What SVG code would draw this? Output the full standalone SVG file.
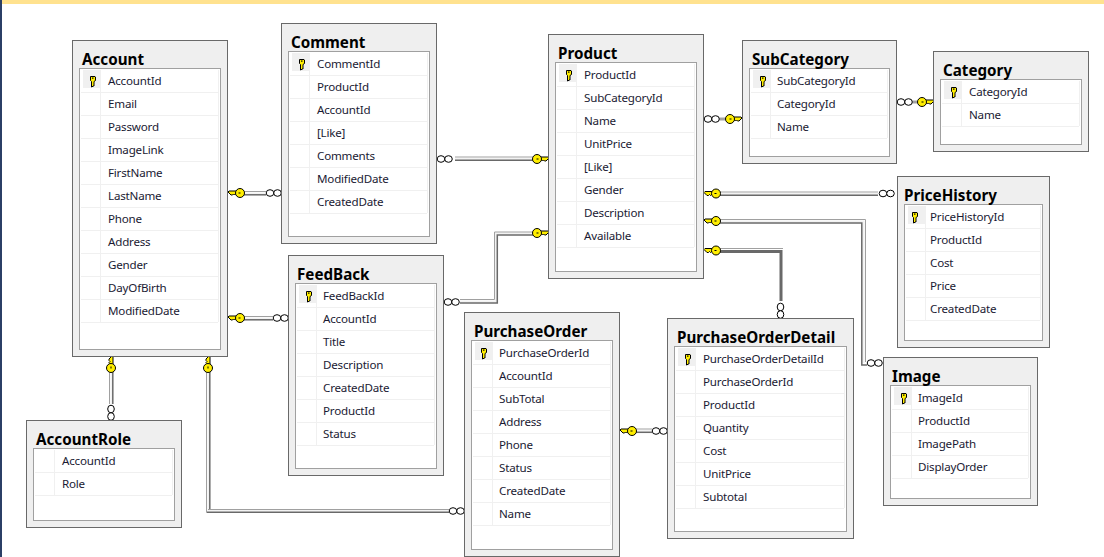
<svg xmlns="http://www.w3.org/2000/svg" xmlns:xlink="http://www.w3.org/1999/xlink" width="1104" height="557" viewBox="0 0 1104 557">
<style>
text{font-family:"Noto Sans","Open Sans","Liberation Sans",sans-serif;fill:#000}
.t{font-size:15.2px;font-weight:700}
.r{font-size:11.6px;letter-spacing:-.2px;fill:#1a1a33}
.o{fill:#efefef;stroke:#696969;stroke-width:1}
.p{fill:#fff;stroke:#a0a0a0;stroke-width:1}
.g{fill:none;stroke:#f0f0f0;stroke-width:1}
.c{fill:#f0f0f0}
.l,.m,.d{fill:none}
.l{stroke:#a0a0a0;stroke-width:1}
.m{stroke:#f2f2f2;stroke-width:2}
.d{stroke:#696969;stroke-width:1.5}
.h{stroke:#696969;stroke-width:3;fill:none}
.y{fill:#ffee00;stroke:#000;stroke-width:1}
.i{fill:#fff;stroke:#000;stroke-width:1}
</style>
<defs>
<g id="k"><path class="y" d="M-2.500,-4.500h4.500l.5,.5v3.500l-1.500,1v4.500h-1l-1,1h-.5v-5.500l-1,-1z"/><rect x="-1" y="-3.500" width="1.500" height="1.200" fill="#000"/></g>
<g id="ck"><path class="y" d="M-2,-2h-9l-1,1 3,3h1.500l1,-1 1,1 1,-1 1,1 1,-1h1.500z"/><circle class="y" r="4.500"/><rect x="-1.500" y="-.5" width="2" height="1" fill="#000"/></g>
<g id="inf"><ellipse class="i" cx="4" cy="0" rx="3.800" ry="3.300"/><ellipse class="i" cx="11.500" cy="0" rx="3.800" ry="3.300"/></g>
</defs>
<rect x="0" y="0" width="1104" height="4" fill="#ffe28f"/>
<rect x="0" y="0" width="2" height="557" fill="#2b3f66"/>

<g id="connectors">
<g id="c1"><path class="m" d="M244,193.500H266"/><path class="l" d="M244,191.500H266"/><path class="d" d="M244,194.800H266"/><use href="#ck" x="240" y="193"/><use href="#inf" x="266" y="193"/></g>
<g id="c2"><path class="m" d="M244,318.500H273"/><path class="l" d="M244,316.500H273"/><path class="d" d="M244,319.800H273"/><use href="#ck" x="240" y="318"/><use href="#inf" x="273" y="318"/></g>
<g id="c3"><path class="m" d="M111.500,372V404"/><path class="l" d="M109.500,372V404"/><path class="d" d="M112.800,372V404"/><use href="#ck" transform="translate(111,368) rotate(90)"/><use href="#inf" transform="translate(111,405) rotate(90)"/></g>
<g id="c4"><path class="m" d="M208.500,372V510.500H449"/><path class="l" d="M206.500,372V512.500H449"/><path class="l" d="M208,509.500H449" /><path class="d" d="M209.800,372V509"/><path class="d" d="M207,512.300H449"/><use href="#ck" transform="translate(208,368) rotate(90)"/><use href="#inf" x="449" y="511"/></g>
<g id="c5"><path class="m" d="M455,159H533"/><path class="l" d="M455,157H533"/><path class="d" d="M455,160.300H533"/><use href="#ck" transform="translate(537,159) scale(-1,1)"/><use href="#inf" x="437" y="159"/></g>
<g id="c6"><path class="m" d="M460,301.500H496V233.500H533"/><path class="l" d="M460,299.500H494.500V232H533"/><path class="d" d="M460,303H497.300V235H533"/><use href="#ck" transform="translate(537,233) scale(-1,1)"/><use href="#inf" x="444" y="302"/></g>
<g id="c7"><path d="M719,119H727" stroke="#a0a0a0" stroke-width="3" fill="none"/><use href="#ck" transform="translate(730,119) scale(-1,1)"/><use href="#inf" x="704" y="119"/></g>
<g id="c8"><path d="M912,102H919" stroke="#a0a0a0" stroke-width="3" fill="none"/><use href="#ck" transform="translate(922,102) scale(-1,1)"/><use href="#inf" x="897" y="102"/></g>
<g id="c9"><path class="m" d="M720,194H878"/><path class="l" d="M720,192H878"/><path class="d" d="M720,195.300H878"/><use href="#ck" x="716" y="193.500"/><use href="#inf" x="879" y="193.500"/></g>
<g id="c10"><path class="m" d="M720,221.500H863.500V363"/><path class="l" d="M720,219.500H865.500V362"/><path class="d" d="M720,223H861.800V365H867"/><use href="#ck" x="716" y="221"/><use href="#inf" x="867" y="363"/></g>
<g id="c11"><path d="M720,251.500H781V301" class="h"/><path class="l" d="M720,248.500H783"/><use href="#ck" x="716" y="250.500"/><use href="#inf" transform="translate(780.500,303) rotate(90)"/></g>
<g id="c12"><path class="m" d="M636,431H652"/><path class="l" d="M636,429H652"/><path class="d" d="M636,432.300H652"/><use href="#ck" x="632" y="431"/><use href="#inf" x="652" y="431"/></g>
</g>

<g id="Account" transform="translate(79,68)"><rect class="o" x="-6.500" y="-27.500" width="155" height="316"/><rect class="p" x=".5" y=".5" width="141" height="281"/><rect class="c" x="4" y="2" width="17" height="18"/>
<path class="g" d="M21.500,2V254M139.500,2V254M2,24.500h137m-137,23h137m-137,23h137m-137,23h137m-137,23h137m-137,23h137m-137,23h137m-137,23h137m-137,23h137m-137,23h137m-137,23h137"/>
<use href="#k" x="14" y="13"/><text class="t" x="3" y="-3">Account</text>
<text class="r" x="29" y="17">AccountId</text><text class="r" x="29" y="40">Email</text><text class="r" x="29" y="63">Password</text><text class="r" x="29" y="86">ImageLink</text><text class="r" x="29" y="109">FirstName</text><text class="r" x="29" y="132">LastName</text><text class="r" x="29" y="155">Phone</text><text class="r" x="29" y="178">Address</text><text class="r" x="29" y="201">Gender</text><text class="r" x="29" y="224">DayOfBirth</text><text class="r" x="29" y="247">ModifiedDate</text></g>

<g id="Comment" transform="translate(288,51)"><rect class="o" x="-6.500" y="-27.500" width="155" height="220"/><rect class="p" x=".5" y=".5" width="141" height="185"/><rect class="c" x="4" y="2" width="17" height="18"/>
<path class="g" d="M21.500,2V162M139.500,2V162M2,24.500h137m-137,23h137m-137,23h137m-137,23h137m-137,23h137m-137,23h137m-137,23h137"/>
<use href="#k" x="14" y="13"/><text class="t" x="3" y="-3">Comment</text>
<text class="r" x="29" y="17">CommentId</text><text class="r" x="29" y="40">ProductId</text><text class="r" x="29" y="63">AccountId</text><text class="r" x="29" y="86">[Like]</text><text class="r" x="29" y="109">Comments</text><text class="r" x="29" y="132">ModifiedDate</text><text class="r" x="29" y="155">CreatedDate</text></g>

<g id="Product" transform="translate(555,62)"><rect class="o" x="-6.500" y="-27.500" width="155" height="244"/><rect class="p" x=".5" y=".5" width="141" height="209"/><rect class="c" x="4" y="2" width="17" height="18"/>
<path class="g" d="M21.500,2V185M139.500,2V185M2,24.500h137m-137,23h137m-137,23h137m-137,23h137m-137,23h137m-137,23h137m-137,23h137m-137,23h137"/>
<use href="#k" x="14" y="13"/><text class="t" x="3" y="-3">Product</text>
<text class="r" x="29" y="17">ProductId</text><text class="r" x="29" y="40">SubCategoryId</text><text class="r" x="29" y="63">Name</text><text class="r" x="29" y="86">UnitPrice</text><text class="r" x="29" y="109">[Like]</text><text class="r" x="29" y="132">Gender</text><text class="r" x="29" y="155">Description</text><text class="r" x="29" y="178">Available</text></g>

<g id="SubCategory" transform="translate(749,68)"><rect class="o" x="-6.500" y="-27.500" width="154" height="123"/><rect class="p" x=".5" y=".5" width="140" height="88"/><rect class="c" x="4" y="2" width="17" height="18"/>
<path class="g" d="M21.500,2V70M138.500,2V70M2,24.500h136m-136,23h136m-136,23h136"/>
<use href="#k" x="14" y="13"/><text class="t" x="3" y="-3">SubCategory</text>
<text class="r" x="28" y="17">SubCategoryId</text><text class="r" x="28" y="40">CategoryId</text><text class="r" x="28" y="63">Name</text></g>

<g id="Category" transform="translate(940,79)"><rect class="o" x="-6.500" y="-27.500" width="155" height="100"/><rect class="p" x=".5" y=".5" width="141" height="65"/><rect class="c" x="4" y="2" width="17" height="18"/>
<path class="g" d="M21.500,2V47M139.500,2V47M2,24.500h137m-137,23h137"/>
<use href="#k" x="14" y="13"/><text class="t" x="3" y="-3">Category</text>
<text class="r" x="29" y="17">CategoryId</text><text class="r" x="29" y="40">Name</text></g>

<g id="PriceHistory" transform="translate(904,204)"><rect class="o" x="-6.500" y="-27.500" width="152" height="171"/><rect class="p" x=".5" y=".5" width="138" height="136"/><rect class="c" x="4" y="2" width="17" height="18"/>
<path class="g" d="M21.500,2V116M136.500,2V116M2,24.500h134m-134,23h134m-134,23h134m-134,23h134m-134,23h134"/>
<use href="#k" x="11" y="13"/><text class="t" x="0" y="-3">PriceHistory</text>
<text class="r" x="26" y="17">PriceHistoryId</text><text class="r" x="26" y="40">ProductId</text><text class="r" x="26" y="63">Cost</text><text class="r" x="26" y="86">Price</text><text class="r" x="26" y="109">CreatedDate</text></g>

<g id="Image" transform="translate(890,385)"><rect class="o" x="-6.500" y="-27.500" width="154" height="148"/><rect class="p" x=".5" y=".5" width="140" height="113"/><rect class="c" x="4" y="2" width="17" height="18"/>
<path class="g" d="M21.500,2V93M138.500,2V93M2,24.500h136m-136,23h136m-136,23h136m-136,23h136"/>
<use href="#k" x="14" y="13"/><text class="t" x="2" y="-3">Image</text>
<text class="r" x="28" y="17">ImageId</text><text class="r" x="28" y="40">ProductId</text><text class="r" x="28" y="63">ImagePath</text><text class="r" x="28" y="86">DisplayOrder</text></g>

<g id="PurchaseOrderDetail" transform="translate(674,346)"><rect class="o" x="-6.500" y="-27.500" width="186" height="220"/><rect class="p" x=".5" y=".5" width="172" height="185"/><rect class="c" x="4" y="2" width="17" height="18"/>
<path class="g" d="M21.500,2V162M170.500,2V162M2,24.500h168m-168,23h168m-168,23h168m-168,23h168m-168,23h168m-168,23h168m-168,23h168"/>
<use href="#k" x="14" y="13"/><text class="t" x="3" y="-3">PurchaseOrderDetail</text>
<text class="r" x="29" y="17">PurchaseOrderDetailId</text><text class="r" x="29" y="40">PurchaseOrderId</text><text class="r" x="29" y="63">ProductId</text><text class="r" x="29" y="86">Quantity</text><text class="r" x="29" y="109">Cost</text><text class="r" x="29" y="132">UnitPrice</text><text class="r" x="29" y="155">Subtotal</text></g>

<g id="PurchaseOrder" transform="translate(471,340)"><rect class="o" x="-6.500" y="-27.500" width="155" height="244"/><rect class="p" x=".5" y=".5" width="141" height="209"/><rect class="c" x="4" y="2" width="17" height="18"/>
<path class="g" d="M21.500,2V185M139.500,2V185M2,24.500h137m-137,23h137m-137,23h137m-137,23h137m-137,23h137m-137,23h137m-137,23h137m-137,23h137"/>
<use href="#k" x="13" y="13"/><text class="t" x="3" y="-3">PurchaseOrder</text>
<text class="r" x="28" y="17">PurchaseOrderId</text><text class="r" x="28" y="40">AccountId</text><text class="r" x="28" y="63">SubTotal</text><text class="r" x="28" y="86">Address</text><text class="r" x="28" y="109">Phone</text><text class="r" x="28" y="132">Status</text><text class="r" x="28" y="155">CreatedDate</text><text class="r" x="28" y="178">Name</text></g>

<g id="FeedBack" transform="translate(295,283)"><rect class="o" x="-6.500" y="-27.500" width="155" height="220"/><rect class="p" x=".5" y=".5" width="141" height="185"/><rect class="c" x="4" y="2" width="17" height="18"/>
<path class="g" d="M21.500,2V162M139.500,2V162M2,24.500h137m-137,23h137m-137,23h137m-137,23h137m-137,23h137m-137,23h137m-137,23h137"/>
<use href="#k" x="14" y="13"/><text class="t" x="2" y="-3">FeedBack</text>
<text class="r" x="28" y="17">FeedBackId</text><text class="r" x="28" y="40">AccountId</text><text class="r" x="28" y="63">Title</text><text class="r" x="28" y="86">Description</text><text class="r" x="28" y="109">CreatedDate</text><text class="r" x="28" y="132">ProductId</text><text class="r" x="28" y="155">Status</text></g>

<g id="AccountRole" transform="translate(33,448)"><rect class="o" x="-6.500" y="-27.500" width="155" height="107"/><rect class="p" x=".5" y=".5" width="141" height="72"/>
<path class="g" d="M21.500,2V47M139.500,2V47M2,24.500h137m-137,23h137"/>
<text class="t" x="3" y="-3">AccountRole</text>
<text class="r" x="29" y="17">AccountId</text><text class="r" x="29" y="40">Role</text></g>
</svg>
